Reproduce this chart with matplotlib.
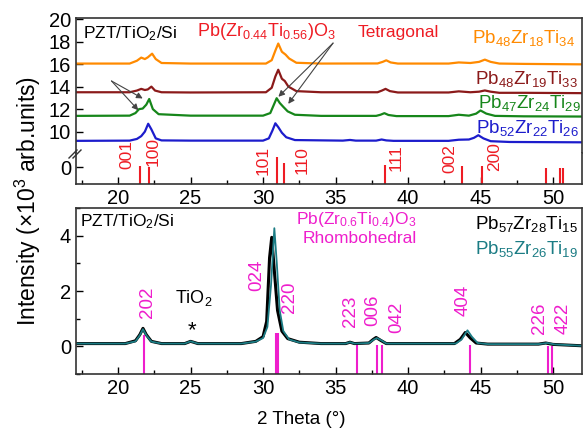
import matplotlib
matplotlib.use("Agg")
import matplotlib.pyplot as plt
from matplotlib.ticker import MultipleLocator

plt.rcParams['font.family'] = ['Liberation Sans', 'DejaVu Sans']
plt.rcParams['mathtext.fontset'] = 'custom'
plt.rcParams['mathtext.rm'] = 'Liberation Sans'
plt.rcParams['mathtext.it'] = 'Liberation Sans:italic'
plt.rcParams['mathtext.bf'] = 'Liberation Sans:bold'

# ---- top panel: tetragonal films (intensity x10^3, offset) ----
orange_x = [17.1, 20.8, 21.3, 21.6, 21.85, 22.05, 22.35, 22.6, 23.0, 25.0, 30.2, 30.6, 30.85, 31.05, 31.3, 31.55, 31.8, 32.3, 34.0,
            37.9, 38.25, 38.5, 38.8, 39.3, 42.8, 43.5, 44.3, 44.9, 45.3, 45.7, 46.3, 48.0, 52.0]
orange_y = [16.05, 16.05, 16.3, 16.58, 16.45, 16.6, 16.93, 16.45, 16.1, 16.05, 16.05, 16.35, 17.2, 17.83, 17.1, 16.85, 16.5, 16.12, 16.05,
            16.06, 16.2, 16.34, 16.15, 16.05, 16.05, 16.15, 16.1, 16.2, 16.4, 16.2, 16.05, 16.02, 15.98]

darkred_x = [17.1, 20.8, 21.3, 21.6, 21.85, 22.05, 22.3, 22.55, 23.0, 25.0, 30.2, 30.6, 30.85, 31.05, 31.3, 31.5, 31.75, 32.3, 34.0,
             37.9, 38.2, 38.45, 38.75, 39.3, 42.8, 43.5, 44.3, 44.9, 45.3, 45.7, 46.3, 48.0, 52.0]
darkred_y = [13.5, 13.5, 13.65, 13.8, 13.7, 13.75, 14.0, 13.65, 13.5, 13.48, 13.5, 13.9, 14.9, 15.5, 14.7, 14.5, 14.0, 13.6, 13.5,
             13.5, 13.65, 13.8, 13.6, 13.48, 13.48, 13.58, 13.5, 13.55, 13.66, 13.55, 13.45, 13.45, 13.42]

green_x = [17.1, 20.8, 21.2, 21.45, 21.7, 21.95, 22.15, 22.4, 22.8, 25.0, 30.0, 30.5, 30.75, 30.94, 31.15, 31.4, 31.7, 32.2, 34.0,
           37.8, 38.1, 38.37, 38.65, 39.2, 42.8, 43.5, 44.2, 44.7, 45.0, 45.4, 46.0, 48.0, 52.0]
green_y = [11.4, 11.42, 11.65, 12.0, 12.05, 12.4, 12.9, 12.0, 11.55, 11.42, 11.42, 11.65, 12.4, 12.97, 12.55, 12.2, 11.8, 11.5, 11.4,
           11.4, 11.5, 11.64, 11.48, 11.38, 11.38, 11.5, 11.42, 11.6, 11.88, 11.6, 11.4, 11.36, 11.34]

blue_x = [17.1, 20.8, 21.3, 21.6, 21.85, 22.08, 22.3, 22.6, 23.0, 25.0, 30.0, 30.4, 30.65, 30.85, 31.05, 31.3, 31.6, 32.2,
          35.5, 36.0, 36.4, 37.8, 38.18, 38.5, 39.0, 42.8, 43.5, 44.2, 44.55, 44.85, 45.2, 45.7, 47.0, 52.0]
blue_y = [9.18, 9.2, 9.35, 9.6, 10.0, 10.7, 10.2, 9.4, 9.22, 9.2, 9.2, 9.4, 10.1, 10.74, 10.4, 9.9, 9.5, 9.25,
          9.2, 9.26, 9.2, 9.2, 9.3, 9.22, 9.18, 9.18, 9.28, 9.3, 9.45, 9.68, 9.4, 9.15, 9.08, 9.05]

tet_pos = [21.52, 22.14, 30.97, 31.45, 38.41, 43.7, 45.08, 49.5, 50.48, 50.7]
tet_top = [0.1, 0.0, 0.9, 0.36, 0.18, 0.1, 0.1, -0.1, -0.1, -0.1]
tet_hkl = ['001', '100', '101', '110', '111', '002', '200']
tet_lab_x = [20.62, 22.41, 30.0, 32.67, 39.2, 42.9, 46.0]
tet_lab_y = [1.11, 1.38, 0.62, 0.58, 0.8, 0.8, 0.93]

# ---- bottom panel: rhombohedral films ----
black_x = [17.1, 20.5, 21.2, 21.5, 21.72, 21.95, 22.3, 23.0, 24.6, 24.85, 25.0, 25.2, 25.5, 28.5, 29.5, 30.0, 30.25, 30.45, 30.6,
           30.8, 31.0, 31.3, 31.7, 32.5, 34.0, 35.7, 36.0, 36.3, 37.3, 37.6, 37.8, 38.1, 38.5, 43.2, 43.6, 43.95, 44.3, 44.7,
           45.5, 49.0, 49.5, 50.0, 52.0]
black_y = [0.1, 0.1, 0.2, 0.42, 0.65, 0.42, 0.18, 0.1, 0.1, 0.15, 0.18, 0.15, 0.1, 0.1, 0.18, 0.35, 0.9, 3.2, 3.94,
           2.6, 1.3, 0.55, 0.28, 0.15, 0.1, 0.1, 0.15, 0.1, 0.12, 0.25, 0.32, 0.22, 0.1, 0.1, 0.25, 0.5, 0.3, 0.12,
           0.08, 0.08, 0.12, 0.07, 0.02]

teal_x = [17.1, 20.5, 21.2, 21.5, 21.72, 21.95, 22.3, 23.0, 24.6, 24.85, 25.0, 25.2, 25.5, 28.5, 29.5, 30.0, 30.3, 30.55, 30.78,
          30.95, 31.15, 31.4, 31.8, 32.5, 34.0, 35.7, 36.0, 36.3, 37.3, 37.65, 37.85, 38.15, 38.5, 43.3, 43.7, 44.1, 44.4, 44.8,
          45.5, 49.0, 49.6, 50.1, 52.0]
teal_y = [0.1, 0.1, 0.18, 0.4, 0.62, 0.4, 0.17, 0.1, 0.1, 0.15, 0.18, 0.15, 0.1, 0.1, 0.17, 0.3, 0.7, 2.2, 4.27,
          3.0, 1.3, 0.55, 0.25, 0.14, 0.1, 0.1, 0.15, 0.1, 0.12, 0.25, 0.3, 0.22, 0.1, 0.1, 0.25, 0.58, 0.35, 0.12,
          0.08, 0.08, 0.12, 0.07, 0.02]

rho_pos = [21.8, 30.88, 31.06, 36.46, 37.84, 38.19, 44.28, 49.68, 49.95]
rho_top = [0.4, 0.48, 0.48, 0.05, 0.05, 0.05, 0.05, 0.0, 0.0]
rho_hkl = ['202', '024', '220', '223', '006', '042', '404', '226', '422']
rho_lab_x = [22.0, 29.59, 31.86, 36.0, 37.59, 39.24, 43.79, 49.1, 50.69]
rho_lab_y = [1.59, 2.56, 1.76, 1.25, 1.32, 1.06, 1.65, 1.03, 1.03]

RED = '#ee1c24'
MAG = '#ee1ecc'
ORANGE = '#ff8a00'
DARKRED = '#8b1a1a'
GREEN = '#16861a'
BLUE = '#1c1ccc'
TEAL = '#1b7c84'

W, H = 588, 433
fig = plt.figure(figsize=(W / 100, H / 100), dpi=100)

def box(l, t, r, b):
    return [l / W, 1 - b / H, (r - l) / W, (b - t) / H]

ax_up = fig.add_axes(box(76, 18, 582, 153))
ax_lo = fig.add_axes(box(76, 153, 582, 184))
ax_b = fig.add_axes(box(76, 208, 582, 374))

for a in (ax_up, ax_lo, ax_b):
    a.set_xlim(17.1, 52)
    a.tick_params(direction='in', labelsize=14.5, length=5, width=1)
    a.tick_params(which='minor', direction='in', length=3, width=1)
    for s in a.spines.values():
        s.set_linewidth(1.2)
        s.set_color('#333333')

# upper part of the broken axis
ax_up.plot(orange_x, orange_y, color=ORANGE, lw=1.6)
ax_up.plot(darkred_x, darkred_y, color=DARKRED, lw=1.6)
ax_up.plot(green_x, green_y, color=GREEN, lw=1.6)
ax_up.plot(blue_x, blue_y, color=BLUE, lw=1.6)
ax_up.set_ylim(8.1, 20.1)
ax_up.set_yticks([10, 12, 14, 16, 18, 20])
ax_up.set_xticks([])
ax_up.spines['bottom'].set_visible(False)

ax_up.text(17.6, 18.75, 'PZT/TiO$_2$/Si', fontsize=12.5, ha='left', va='center')
ax_up.text(25.45, 18.9, 'Pb(Zr$_{0.44}$Ti$_{0.56}$)O$_3$', fontsize=13, color=RED, ha='left', va='center')
ax_up.text(36.55, 18.85, 'Tetragonal', fontsize=12.5, color=RED, ha='left', va='center')
ax_up.text(51.5, 18.3, 'Pb$_{48}$Zr$_{18}$Ti$_{34}$', fontsize=13.5, color=ORANGE, ha='right', va='center')
ax_up.text(51.7, 14.65, 'Pb$_{48}$Zr$_{19}$Ti$_{33}$', fontsize=13.5, color=DARKRED, ha='right', va='center')
ax_up.text(51.9, 12.55, 'Pb$_{47}$Zr$_{24}$Ti$_{29}$', fontsize=13.5, color=GREEN, ha='right', va='center')
ax_up.text(51.8, 10.35, 'Pb$_{52}$Zr$_{22}$Ti$_{26}$', fontsize=13.5, color=BLUE, ha='right', va='center')

arrow = dict(arrowstyle='-|>', color='#444444', lw=0.8, mutation_scale=9, shrinkA=0, shrinkB=0)
for tip in [(21.7, 12.95), (21.4, 11.9)]:
    ax_up.annotate('', xy=tip, xytext=(19.55, 14.5), arrowprops=arrow)
for tip in [(31.06, 13.1), (31.74, 12.47)]:
    ax_up.annotate('', xy=tip, xytext=(34.83, 17.87), arrowprops=arrow)

# lower part of the broken axis: reference pattern
ax_lo.vlines(tet_pos, -1.5, tet_top, color=RED, lw=1.5)
for hx, hy, lab in zip(tet_lab_x, tet_lab_y, tet_hkl):
    ax_lo.text(hx, hy, lab, rotation=90, fontsize=12.5, color=RED, ha='center', va='center', clip_on=False)
ax_lo.set_ylim(-1.5, 1.25)
ax_lo.set_yticks([0])
ax_lo.xaxis.set_major_locator(MultipleLocator(5))
ax_lo.xaxis.set_minor_locator(MultipleLocator(2.5))
ax_lo.spines['top'].set_visible(False)

# break marks on the left spine
for dx in (0, 4):
    fig.add_artist(plt.Line2D([(69 + dx) / W, (77 + dx) / W], [1 - 158 / H, 1 - 150 / H],
                              color='#333333', lw=1.0, transform=fig.transFigure))

# bottom panel
ax_b.plot(black_x, black_y, color='black', lw=2.2)
ax_b.plot(teal_x, teal_y, color=TEAL, lw=1.3)
ax_b.vlines(rho_pos, -1, rho_top, color=MAG, lw=1.5)
for hx, hy, lab in zip(rho_lab_x, rho_lab_y, rho_hkl):
    ax_b.text(hx, hy, lab, rotation=90, fontsize=13.5, color=MAG, ha='center', va='center')
ax_b.set_ylim(-1, 5)
ax_b.set_yticks([0, 2, 4])
ax_b.yaxis.set_minor_locator(MultipleLocator(1))
ax_b.xaxis.set_major_locator(MultipleLocator(5))
ax_b.xaxis.set_minor_locator(MultipleLocator(2.5))

ax_b.text(17.38, 4.5, 'PZT/TiO$_2$/Si', fontsize=12.5, ha='left', va='center')
ax_b.text(40.62, 4.6, 'Pb(Zr$_{0.6}$Ti$_{0.4}$)O$_3$', fontsize=12.5, color=MAG, ha='right', va='center')
ax_b.text(40.62, 3.88, 'Rhombohedral', fontsize=12.5, color=MAG, ha='right', va='center')
ax_b.text(51.7, 4.43, 'Pb$_{57}$Zr$_{28}$Ti$_{15}$', fontsize=13.5, color='black', ha='right', va='center')
ax_b.text(51.7, 3.52, 'Pb$_{55}$Zr$_{26}$Ti$_{19}$', fontsize=13.5, color=TEAL, ha='right', va='center')
ax_b.text(25.2, 1.76, 'TiO$_2$', fontsize=13, ha='center', va='center')
ax_b.text(25.08, 0.55, '*', fontsize=16, ha='center', va='center')

fig.text(301.5 / W, 1 - 420 / H, '2 Theta (°)', fontsize=13.5, ha='center', va='center')
fig.text(28 / W, 1 - 201 / H, 'Intensity (×10$^3$ arb.units)', fontsize=16.5, rotation=90, ha='center', va='center')

fig.savefig('out.png', dpi=100)
